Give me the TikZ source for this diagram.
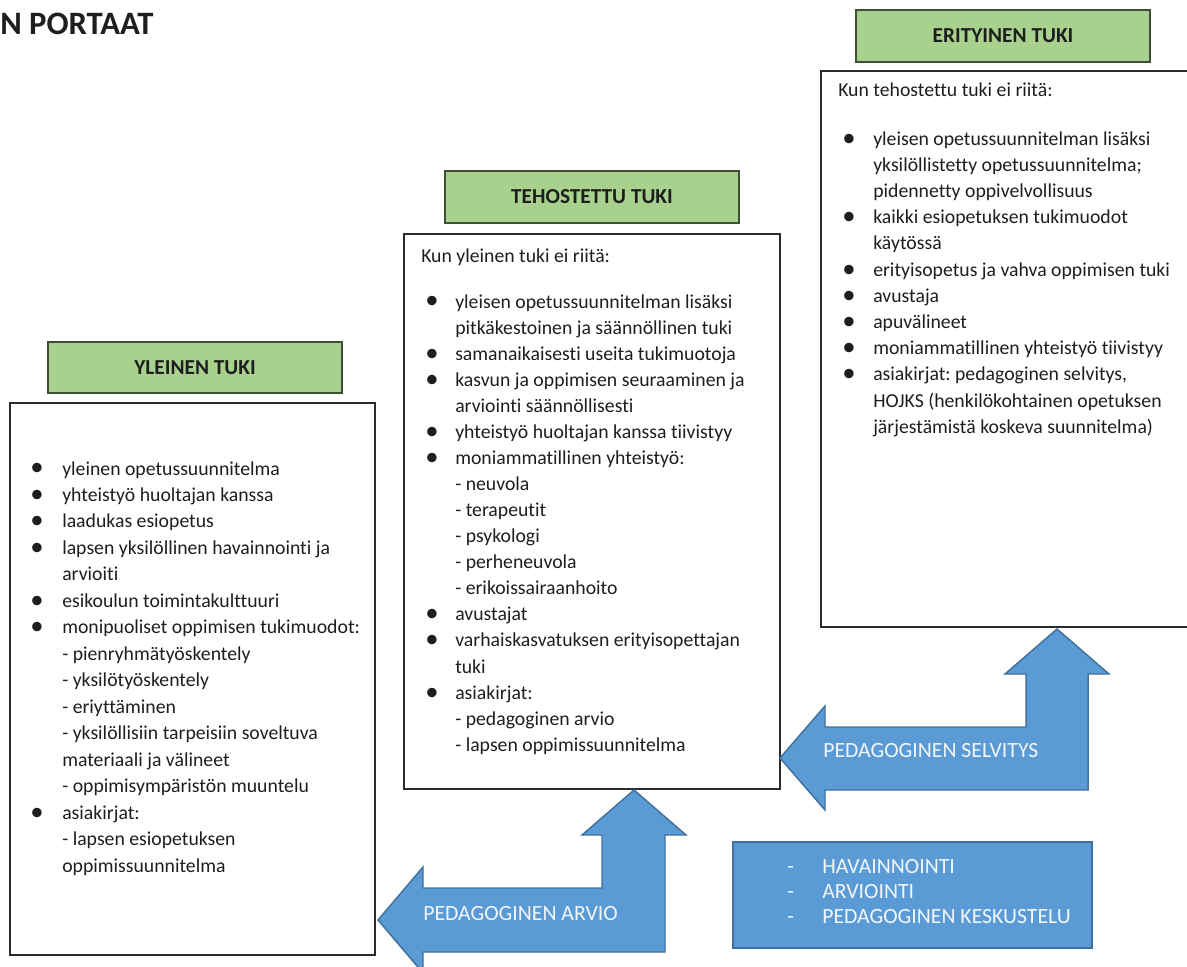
\documentclass[tikz,border=0pt]{standalone}
\usepackage{fontspec}
\setmainfont{Carlito}[Ligatures={NoCommon}]
\usetikzlibrary{fit}
\definecolor{hdrgreen}{HTML}{A9D18E}
\definecolor{hdrline}{HTML}{3F4F35}
\definecolor{arrblue}{HTML}{5B9BD5}
\definecolor{arrline}{HTML}{41719C}
\definecolor{boxline}{HTML}{2B2B2B}
\definecolor{txt}{HTML}{1E1E1E}
\definecolor{lighttxt}{HTML}{F2F6FB}
\newlength\bw
\newlength\bo
\newcommand{\bulletmark}{{\fontsize{20pt}{0pt}\selectfont\raisebox{-0.7pt}{•}}}
\newcommand{\itm}[1]{\hspace*{\bo}\makebox[\dimexpr\bw-\bo\relax][l]{\bulletmark}#1}
\newcommand{\subi}[1]{\hspace*{\bw}#1}
\frenchspacing
\begin{document}
\begin{tikzpicture}[x=0.75pt,y=-0.75pt,
  whitebox/.style={draw=boxline, line width=0.9pt, fill=white, inner sep=0pt},
  hdr/.style={draw=hdrline, line width=1.1pt, fill=hdrgreen, inner sep=0pt},
  hdrtext/.style={inner sep=0pt, text=txt, font=\fontsize{16pt}{19pt}\selectfont\bfseries},
  bluearrow/.style={draw=arrline, line width=1.1pt, fill=arrblue},
  bluebox/.style={draw=arrline, line width=1.1pt, fill=arrblue, inner sep=0pt},
  bodytext/.style={anchor=base west, inner sep=0pt, text=txt},
  arrtext/.style={anchor=base west, inner sep=0pt, text=lighttxt, font=\fontsize{16.3pt}{19pt}\selectfont},
]
\useasboundingbox (0,0) rectangle (1187,966);
\clip (0,0) rectangle (1187,966);

% title
\node[bodytext, font=\fontsize{24.5pt}{27pt}\selectfont\bfseries] (title) at (0,35) {N PORTAAT};

% headers
\node[hdr, fit={(48,342) (342,393)}] (h1) {};
\node[hdrtext] (h1t) at (h1.center) {YLEINEN TUKI};
\node[hdr, fit={(445,171) (739,223)}] (h2) {};
\node[hdrtext] (h2t) at (h2.center) {TEHOSTETTU TUKI};
\node[hdr, fit={(856,10) (1150,62)}] (h3) {};
\node[hdrtext] (h3t) at (h3.center) {ERITYINEN TUKI};

% white boxes
\node[whitebox, fit={(10,403) (375,955)}] (lbox) {};
\node[whitebox, fit={(404,234) (780,789)}] (mbox) {};
\node[whitebox, fit={(821,71) (1192,627)}] (rbox) {};

% left box text
\node[bodytext] (ltxt) at (30,475) {\setlength\bw{24pt}\setlength\bo{0pt}\parbox[t]{330pt}{\fontsize{14.8pt}{19.85pt}\selectfont\raggedright
\itm{yleinen opetussuunnitelma}\\
\itm{yhteistyö huoltajan kanssa}\\
\itm{laadukas esiopetus}\\
\itm{lapsen yksilöllinen havainnointi ja}\\
\subi{arvioiti}\\
\itm{esikoulun toimintakulttuuri}\\
\itm{monipuoliset oppimisen tukimuodot:}\\
\subi{- pienryhmätyöskentely}\\
\subi{- yksilötyöskentely}\\
\subi{- eriyttäminen}\\
\subi{- yksilöllisiin tarpeisiin soveltuva}\\
\subi{materiaali ja välineet}\\
\subi{- oppimisympäristön muuntelu}\\
\itm{asiakirjat:}\\
\subi{- lapsen esiopetuksen}\\
\subi{oppimissuunnitelma}}};

% middle box text
\node[bodytext] (mtxt) at (421,262) {\setlength\bw{25.5pt}\setlength\bo{3pt}\parbox[t]{340pt}{\fontsize{14.8pt}{19.55pt}\selectfont\raggedright
Kun yleinen tuki ei riitä:\\[15pt]
\itm{yleisen opetussuunnitelman lisäksi}\\
\subi{pitkäkestoinen ja säännöllinen tuki}\\
\itm{samanaikaisesti useita tukimuotoja}\\
\itm{kasvun ja oppimisen seuraaminen ja}\\
\subi{arviointi säännöllisesti}\\
\itm{yhteistyö huoltajan kanssa tiivistyy}\\
\itm{moniammatillinen yhteistyö:}\\
\subi{- neuvola}\\
\subi{- terapeutit}\\
\subi{- psykologi}\\
\subi{- perheneuvola}\\
\subi{- erikoissairaanhoito}\\
\itm{avustajat}\\
\itm{varhaiskasvatuksen erityisopettajan}\\
\subi{tuki}\\
\itm{asiakirjat:}\\
\subi{- pedagoginen arvio}\\
\subi{- lapsen oppimissuunnitelma}}};

% right box text
\node[bodytext] (rtxt) at (838,97) {\setlength\bw{26.25pt}\setlength\bo{3pt}\parbox[t]{340pt}{\fontsize{14.8pt}{19.65pt}\selectfont\raggedright
Kun tehostettu tuki ei riitä:\\[16.5pt]
\itm{yleisen opetussuunnitelman lisäksi}\\
\subi{yksilöllistetty opetussuunnitelma;}\\
\subi{pidennetty oppivelvollisuus}\\
\itm{kaikki esiopetuksen tukimuodot}\\
\subi{käytössä}\\
\itm{erityisopetus ja vahva oppimisen tuki}\\
\itm{avustaja}\\
\itm{apuvälineet}\\
\itm{moniammatillinen yhteistyö tiivistyy}\\
\itm{asiakirjat: pedagoginen selvitys,}\\
\subi{HOJKS (henkilökohtainen opetuksen}\\
\subi{järjestämistä koskeva suunnitelma)}}};

% bent arrow: pedagoginen arvio
\draw[bluearrow] (634,790) -- (686,835) -- (665,835) -- (665,952) -- (423,952) -- (423,973)
  -- (378,920) -- (423,867) -- (423,888) -- (602,888) -- (602,835) -- (582,835) -- cycle;
\node[arrtext] (atxt1) at (423,920) {PEDAGOGINEN ARVIO};

% bent arrow: pedagoginen selvitys
\draw[bluearrow] (1057,629) -- (1109,674) -- (1088,674) -- (1088,790) -- (825,790) -- (825,810)
  -- (780,758) -- (825,706) -- (825,727) -- (1026,727) -- (1026,674) -- (1005,674) -- cycle;
\node[arrtext] (atxt2) at (823,757) {PEDAGOGINEN SELVITYS};

% blue box
\node[bluebox, fit={(733,842) (1092,948)}] (bbox) {};
\node[arrtext] (btxt) at (787,873) {\parbox[t]{260pt}{\fontsize{16.3pt}{18.75pt}\selectfont\raggedright
\makebox[26.25pt][l]{-}HAVAINNOINTI\\
\makebox[26.25pt][l]{-}ARVIOINTI\\
\makebox[26.25pt][l]{-}PEDAGOGINEN KESKUSTELU}};
\end{tikzpicture}
\end{document}
